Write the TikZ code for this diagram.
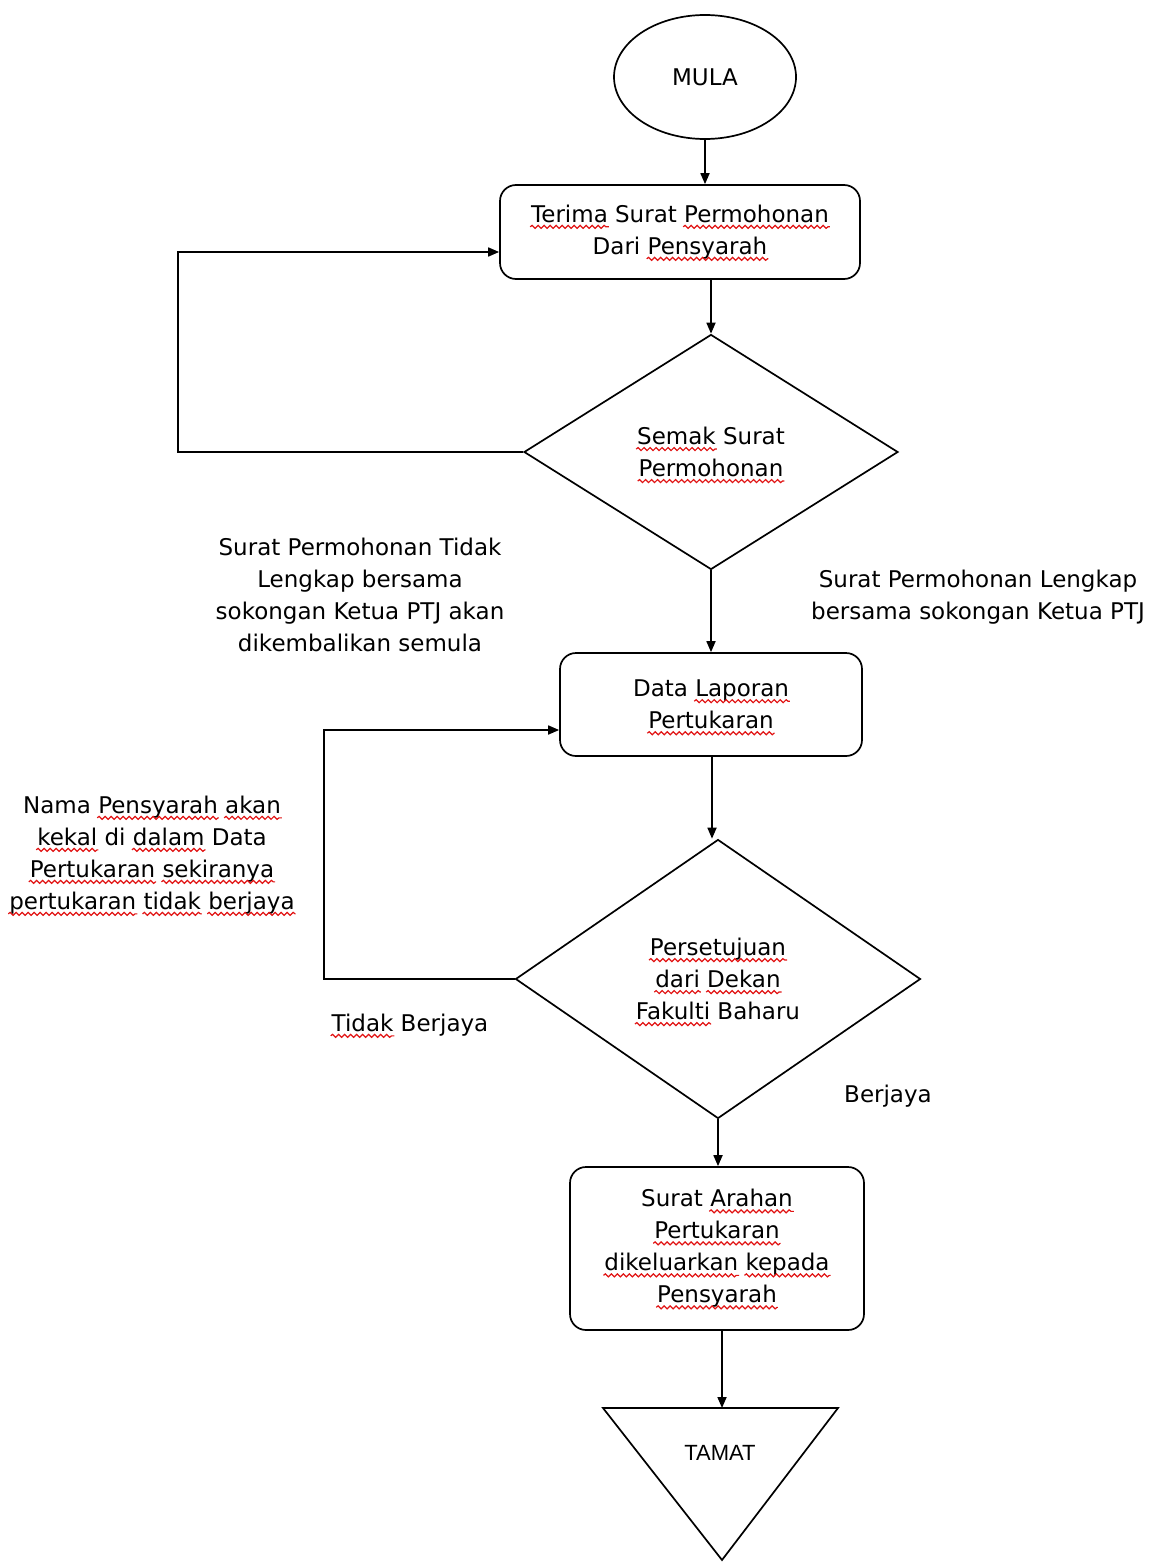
\documentclass[tikz,border=0pt]{standalone}
\usepackage{fontspec}
\setmainfont{DejaVu Sans}
\newfontfamily\arialf{Liberation Sans}
\usetikzlibrary{shapes.geometric,arrows.meta,decorations.pathmorphing}
\definecolor{squig}{RGB}{225,20,20}
\tikzset{wordnode/.style={shape=rectangle,draw=none,fill=none,inner sep=0pt,outer sep=0pt,
  minimum width=0pt,minimum height=0pt,sharp corners}}
\newcommand\sq[1]{\tikz[baseline=(w.base)]{\node[wordnode] (w) {#1};
  \draw[overlay,squig,line width=1.2pt,sharp corners,decorate,decoration={snake,amplitude=1.5pt,segment length=6pt}]
    ([xshift=-1pt,yshift=-4.5pt]w.base west) -- ([xshift=1pt,yshift=-4.5pt]w.base east);}}
\begin{document}
\begin{tikzpicture}[x=1pt,y=-1pt,
  every node/.style={font=\fontsize{23}{32}\selectfont},
  ln/.style={line width=1.7pt},
  arr/.style={ln,-{Triangle[length=11pt,width=9pt]}},
  procbox/.style={draw,ln,rounded corners=16pt,align=center,inner sep=0pt},
  decide/.style={draw,ln,diamond,inner sep=0pt,align=center},
  lbl/.style={align=center,inner sep=0pt}]
\useasboundingbox (0,0) rectangle (1151,1562);
% nodes
\node[draw,ln,ellipse,minimum width=182pt,minimum height=124pt,inner sep=0pt] (mula) at (705,77) {MULA};
\node[procbox,minimum width=360pt,minimum height=94pt] (b1) at (680,232) {\sq{Terima} Surat \sq{Permohonan}\\Dari \sq{Pensyarah}};
\node[decide,minimum width=374pt,minimum height=235pt] (d1) at (711,452) {\sq{Semak} Surat\\\sq{Permohonan}};
\node[procbox,minimum width=302pt,minimum height=103pt] (b2) at (711,704.5) {Data \sq{Laporan}\\\sq{Pertukaran}};
\node[decide,minimum width=405pt,minimum height=279pt] (d2) at (718,979) {\sq{Persetujuan}\\\sq{dari} \sq{Dekan}\\\sq{Fakulti} Baharu};
\node[procbox,minimum width=294pt,minimum height=163pt] (b3) at (717,1248.5) {Surat \sq{Arahan}\\\sq{Pertukaran}\\\sq{dikeluarkan} \sq{kepada}\\\sq{Pensyarah}};
\coordinate (tl) at (603,1408);
\coordinate (tr) at (838,1408);
\coordinate (tb) at (722,1560);
\draw[ln,line join=miter] (tl) -- (tr) -- (tb) -- cycle;
\node[font=\arialf\fontsize{22}{26}\selectfont] (tamat) at (720,1453) {TAMAT};
\coordinate (ttop) at (722,1408);
% labels
\node[lbl] (l1) at (360,595) {Surat Permohonan Tidak\\Lengkap bersama\\sokongan Ketua PTJ akan\\dikembalikan semula};
\node[lbl] (l2) at (978,597) {Surat Permohonan Lengkap\\bersama sokongan Ketua PTJ};
\node[lbl] (l3) at (152,855) {Nama \sq{Pensyarah} \sq{akan}\\\sq{kekal} di \sq{dalam} Data\\\sq{Pertukaran} \sq{sekiranya}\\\sq{pertukaran} \sq{tidak} \sq{berjaya}};
\node[lbl] (l4) at (410,1025) {\sq{Tidak} Berjaya};
\node[lbl] (l5) at (888,1096) {Berjaya};
% connectors
\draw[arr] (mula.south) -- (mula.south |- b1.north);
\draw[arr] (d1.north |- b1.south) -- (d1.north);
\draw[arr] (d1.south) -- (b2.north);
\draw[arr] ([xshift=1pt]b2.south) -- ([xshift=1pt]b2.south |- d2.north);
\draw[arr] (d2.south) -- (d2.south |- b3.north);
\draw[arr] (ttop |- b3.south) -- (ttop);
\coordinate (c1) at (178,452);
\draw[arr] (d1.west) -- (c1) |- ([yshift=-20pt]b1.west);
\coordinate (c2) at (324,979);
\draw[arr] (d2.west) -- (c2) |- ([yshift=-25.5pt]b2.west);
\end{tikzpicture}
\end{document}
